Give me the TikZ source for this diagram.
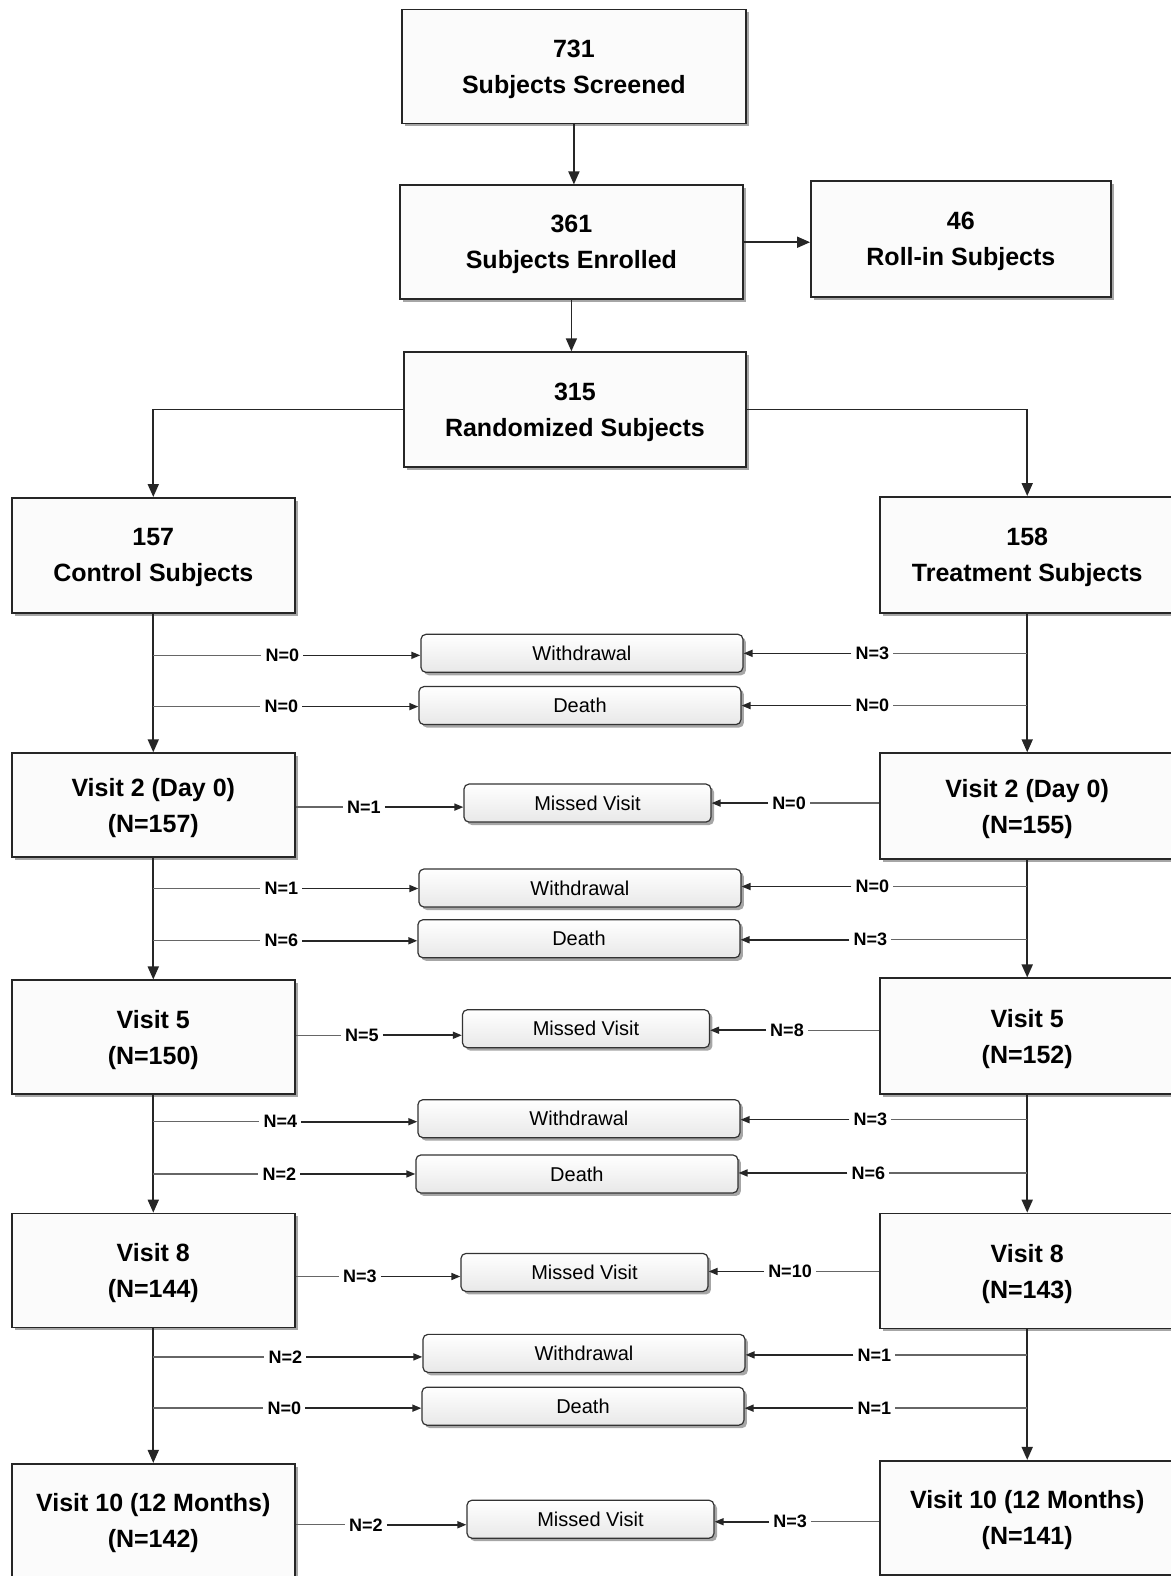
\documentclass[tikz,border=0pt]{standalone}
\usepackage{fontspec}
\setmainfont{Liberation Sans}
\usetikzlibrary{positioning,calc,shadows,arrows.meta}

\tikzset{
  bigbox/.style={draw=black!85, line width=1.6pt, fill=gray!3, align=center, inner sep=0pt,
    font=\fontsize{25}{36}\selectfont\bfseries, text depth=0pt,
    drop shadow={shadow xshift=3pt, shadow yshift=-3pt, fill=black, opacity=0.35}},
  smallbox/.style={draw=black!80, line width=1.2pt, rounded corners=5pt, top color=white, bottom color=gray!18,
    minimum width=322pt, minimum height=38pt, inner sep=0pt, font=\fontsize{20}{24}\selectfont,
    drop shadow={shadow xshift=3pt, shadow yshift=-3pt, fill=black, opacity=0.35}},
  missbox/.style={smallbox, minimum width=247pt},
  nlabel/.style={font=\fontsize{18}{20}\selectfont\bfseries, inner sep=4pt},
  bigarrow/.style={-{Triangle[length=13pt,width=11pt]}, line width=1.8pt, black!85},
  smallarrow/.style={-{Triangle[length=9pt,width=7pt]}, line width=1.6pt, black!85},
  branch/.style={line width=1.4pt, black!60}
}

\begin{document}
\begin{tikzpicture}[x=1.005pt, y=-1.005pt]
    \useasboundingbox[fill=white] (0,0) rectangle (1165,1568);

    % Top boxes
    \node[bigbox, minimum width=344pt, minimum height=114pt] (scr) at (571,66) {731\\Subjects Screened};
    \node[bigbox, minimum width=343pt, minimum height=114pt] (enr) at (568.5,241) {361\\Subjects Enrolled};
    \node[bigbox, minimum width=300pt, minimum height=116pt] (roll) at (956,238) {46\\Roll-in Subjects};
    \node[bigbox, minimum width=342pt, minimum height=115pt] (rand) at (572,407.5) {315\\Randomized Subjects};

    % Arms
    \node[bigbox, minimum width=283pt, minimum height=115pt] (ctrl) at (152.5,552.5) {157\\Control Subjects};
    \node[bigbox, minimum width=294pt, minimum height=116pt] (trt) at (1022,552) {158\\Treatment Subjects};

    % Visits
    \node[bigbox, minimum width=283pt, minimum height=104pt] (v2L) at (152.5,801) {Visit 2 (Day 0)\\(N=157)};
    \node[bigbox, minimum width=294pt, minimum height=106pt] (v2R) at (1022,802) {Visit 2 (Day 0)\\(N=155)};
    \node[bigbox, minimum width=283pt, minimum height=114pt] (v5L) at (152.5,1032) {Visit 5\\(N=150)};
    \node[bigbox, minimum width=294pt, minimum height=116pt] (v5R) at (1022,1031) {Visit 5\\(N=152)};
    \node[bigbox, minimum width=283pt, minimum height=114pt] (v8L) at (152.5,1264) {Visit 8\\(N=144)};
    \node[bigbox, minimum width=294pt, minimum height=115pt] (v8R) at (1022,1264.5) {Visit 8\\(N=143)};
    \node[bigbox, minimum width=283pt, minimum height=114pt] (v10L) at (152.5,1513) {Visit 10 (12 Months)\\(N=142)};
    \node[bigbox, minimum width=294pt, minimum height=114pt] (v10R) at (1022,1510) {Visit 10 (12 Months)\\(N=141)};

    % Drop-out boxes
    \node[smallbox] (wd1) at (579,650) {Withdrawal};
    \node[smallbox] (de1) at (577,702) {Death};
    \node[missbox] (mv1) at (584.5,799) {Missed Visit};
    \node[smallbox] (wd2) at (577,883.5) {Withdrawal};
    \node[smallbox] (de2) at (576,934) {Death};
    \node[missbox] (mv2) at (583,1023.5) {Missed Visit};
    \node[smallbox] (wd3) at (576,1113) {Withdrawal};
    \node[smallbox] (de3) at (574,1168) {Death};
    \node[missbox] (mv3) at (581.5,1266) {Missed Visit};
    \node[smallbox] (wd4) at (581,1346.5) {Withdrawal};
    \node[smallbox] (de4) at (580,1399) {Death};
    \node[missbox] (mv4) at (587.5,1511.5) {Missed Visit};

    % Counts, control side
    \node[nlabel] (lw1) at (281,652) {N=0};
    \node[nlabel] (ld1) at (280,703) {N=0};
    \node[nlabel] (lm1) at (362,803) {N=1};
    \node[nlabel] (lw2) at (280,884) {N=1};
    \node[nlabel] (ld2) at (280,936) {N=6};
    \node[nlabel] (lm2) at (360,1030) {N=5};
    \node[nlabel] (lw3) at (279,1116) {N=4};
    \node[nlabel] (ld3) at (278,1168) {N=2};
    \node[nlabel] (lm3) at (358,1270) {N=3};
    \node[nlabel] (lw4) at (284,1350) {N=2};
    \node[nlabel] (ld4) at (283,1401) {N=0};
    \node[nlabel] (lm4) at (364,1517) {N=2};

    % Counts, treatment side
    \node[nlabel] (rw1) at (868,650) {N=3};
    \node[nlabel] (rd1) at (868,702) {N=0};
    \node[nlabel] (rm1) at (785,799) {N=0};
    \node[nlabel] (rw2) at (868,882) {N=0};
    \node[nlabel] (rd2) at (866,935) {N=3};
    \node[nlabel] (rm2) at (783,1025) {N=8};
    \node[nlabel] (rw3) at (866,1114) {N=3};
    \node[nlabel] (rd3) at (864,1167) {N=6};
    \node[nlabel] (rm3) at (786,1265) {N=10};
    \node[nlabel] (rw4) at (870,1348) {N=1};
    \node[nlabel] (rd4) at (870,1401) {N=1};
    \node[nlabel] (rm4) at (786,1514) {N=3};

    % Main flow
    \draw[bigarrow] (scr.south) -- (scr.south |- enr.north);
    \draw[bigarrow] (enr.east) -- (enr.east -| roll.west);
    \draw[bigarrow] (enr.south) -- (enr.south |- rand.north);
    \draw[bigarrow] (rand.west) -| (ctrl.north);
    \draw[bigarrow] (rand.east) -| (trt.north);
    \draw[bigarrow] (ctrl.south) -- (v2L.north);
    \draw[bigarrow] (v2L.south) -- (v5L.north);
    \draw[bigarrow] (v5L.south) -- (v8L.north);
    \draw[bigarrow] (v8L.south) -- (v10L.north);
    \draw[bigarrow] (trt.south) -- (v2R.north);
    \draw[bigarrow] (v2R.south) -- (v5R.north);
    \draw[bigarrow] (v5R.south) -- (v8R.north);
    \draw[bigarrow] (v8R.south) -- (v10R.north);

    % Branches to withdrawal / death
    \foreach \lab/\bx in {lw1/wd1, ld1/de1, lw2/wd2, ld2/de2, lw3/wd3, ld3/de3, lw4/wd4, ld4/de4} {
        \draw[branch] (\lab -| ctrl.south) -- (\lab);
        \draw[smallarrow] (\lab) -- (\lab -| \bx.west);
    }
    \foreach \lab/\bx in {rw1/wd1, rd1/de1, rw2/wd2, rd2/de2, rw3/wd3, rd3/de3, rw4/wd4, rd4/de4} {
        \draw[branch] (\lab -| trt.south) -- (\lab);
        \draw[smallarrow] (\lab) -- (\lab -| \bx.east);
    }

    % Branches to missed visit
    \foreach \lab/\vis/\bx in {lm1/v2L/mv1, lm2/v5L/mv2, lm3/v8L/mv3, lm4/v10L/mv4} {
        \draw[branch] (\lab -| \vis.east) -- (\lab);
        \draw[smallarrow] (\lab) -- (\lab -| \bx.west);
    }
    \foreach \lab/\vis/\bx in {rm1/v2R/mv1, rm2/v5R/mv2, rm3/v8R/mv3, rm4/v10R/mv4} {
        \draw[branch] (\lab -| \vis.west) -- (\lab);
        \draw[smallarrow] (\lab) -- (\lab -| \bx.east);
    }
\end{tikzpicture}
\end{document}
